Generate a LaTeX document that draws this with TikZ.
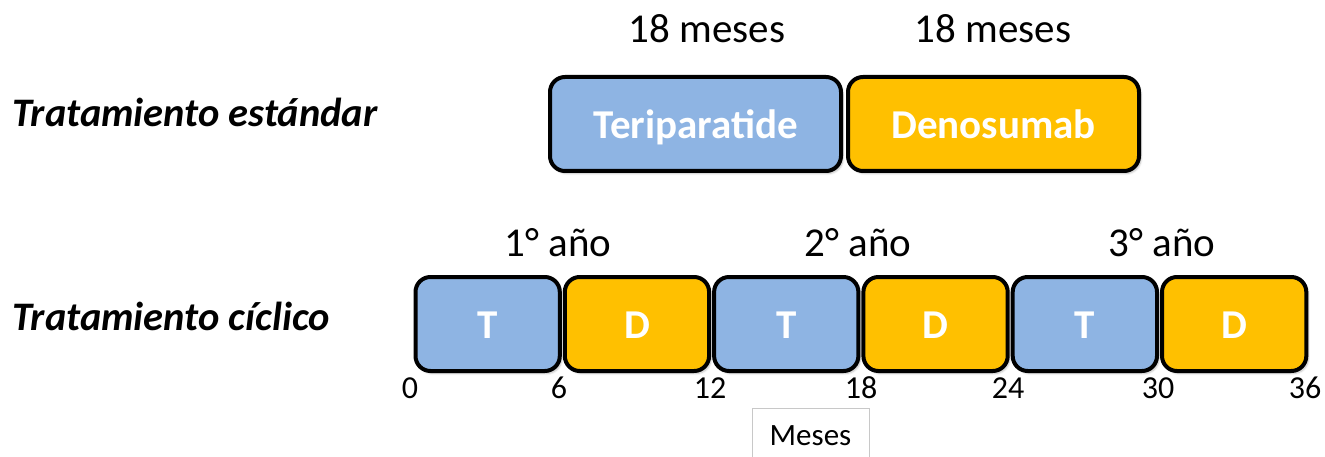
\documentclass[tikz,border=0pt]{standalone}
\usepackage{fontspec}
\setmainfont{Carlito}
\usetikzlibrary{shadows.blur}
\definecolor{tblue}{HTML}{8EB4E3}
\definecolor{dorange}{HTML}{FFC000}
\definecolor{boxgray}{HTML}{C8C8C8}
\begin{document}
\begin{tikzpicture}[x=1pt,y=-1pt,
  phase/.style={draw=black, line width=4pt, rounded corners=15pt, inner sep=0pt,
    text=white, font=\fontsize{41}{49}\selectfont\bfseries,
    blur shadow={shadow xshift=2pt, shadow yshift=-2.5pt, shadow opacity=25, shadow blur steps=6}},
  tphase/.style={phase, fill=tblue},
  dphase/.style={phase, fill=dorange},
  longphase/.style={minimum width=291pt, minimum height=94pt, text height=30pt, text depth=0pt},
  shortphase/.style={minimum width=144.3pt, minimum height=94pt, text height=28pt, text depth=0pt},
  rowlabel/.style={anchor=base west, inner sep=0pt, font=\fontsize{40.5}{48}\selectfont\bfseries\itshape},
  period/.style={anchor=base, inner sep=0pt, font=\fontsize{41}{49}\selectfont},
  tick/.style={anchor=base, inner sep=0pt, font=\fontsize{32}{38}\selectfont},
  unitbox/.style={draw=boxgray, line width=1pt, anchor=north, inner xsep=0pt, inner ysep=0pt,
    minimum width=117pt, text height=37pt, text depth=25pt, font=\fontsize{31}{37}\selectfont}]
\useasboundingbox (0,0) rectangle (1325,457);

% row titles
\node[rowlabel] (std) at (12,127) {Tratamiento estándar};
\node[rowlabel] (cyc) at (12,330) {Tratamiento cíclico};

% standard sequence
\node[tphase, longphase] (ter) at (695.5,124) {Teriparatide};
\node[dphase, longphase] (den) at (993.5,124) {Denosumab};
\node[period] (dur1) at (707,43) {18 meses};
\node[period] (dur2) at (993,43) {18 meses};

% cyclic sequence
\node[tphase, shortphase] (t1) at (487.65,324) {T};
\node[dphase, shortphase] (d1) at (636.95,324) {D};
\node[tphase, shortphase] (t2) at (786.25,324) {T};
\node[dphase, shortphase] (d2) at (935.55,324) {D};
\node[tphase, shortphase] (t3) at (1084.85,324) {T};
\node[dphase, shortphase] (d3) at (1234.15,324) {D};

\node[period] (y1) at (558,256) {1° año};
\node[period] (y2) at (858,256) {2° año};
\node[period] (y3) at (1162,256) {3° año};

% month ticks
\node[tick] (m0) at (410,398) {0};
\node[tick] (m6) at (559,398) {6};
\node[tick] (m12) at (710,398) {12};
\node[tick] (m18) at (861,398) {18};
\node[tick] (m24) at (1008,398) {24};
\node[tick] (m30) at (1158,398) {30};
\node[tick] (m36) at (1305,398) {36};

% axis unit
\node[unitbox] (unit) at (810.5,408) {Meses};
\end{tikzpicture}
\end{document}
